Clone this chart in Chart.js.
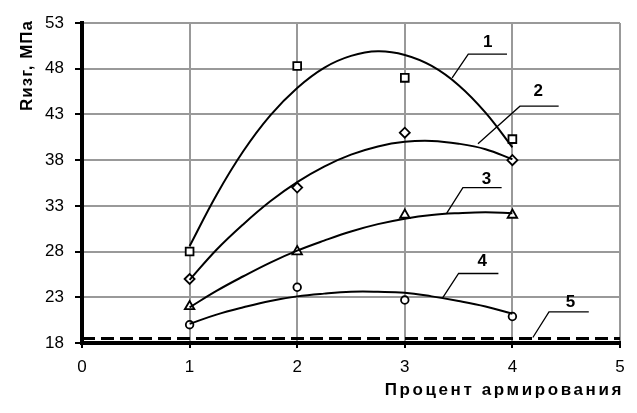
<!DOCTYPE html>
<html>
<head>
<meta charset="utf-8">
<script src="https://cdn.jsdelivr.net/npm/chart.js@4/dist/chart.umd.min.js"></script>
<style>
  html, body { margin: 0; padding: 0; background: #fff; }
  #wrap { width: 637px; height: 413px; }
</style>
</head>
<body>
<div id="wrap"><canvas id="chart" width="637" height="413"></canvas></div>
<script>
// measured points
const pointX = [1, 2, 3, 4];
const series1 = [28, 48.3, 47, 40.3];
const series2 = [25, 35, 41, 38];
const series3 = [22, 28, 32, 32];
const series4 = [20, 24.1, 22.7, 20.9];

// trend curves
const curveX = [1, 1.25, 1.5, 1.75, 2, 2.25, 2.5, 2.75, 3, 3.25, 3.5, 3.75, 4];
const curve1 = [28.6, 34.2, 39.0, 42.9, 45.9, 48.1, 49.4, 49.9, 49.5, 48.3, 46.2, 43.2, 39.4];
const curve2 = [24.9, 28.2, 31.0, 33.5, 35.6, 37.3, 38.6, 39.5, 40.0, 40.1, 39.8, 39.2, 38.1];
const curve3 = [21.9, 23.7, 25.3, 26.8, 28.1, 29.2, 30.2, 31.0, 31.6, 32.0, 32.2, 32.3, 32.2];
const curve4 = [20.1, 21.1, 21.9, 22.6, 23.1, 23.4, 23.6, 23.6, 23.5, 23.1, 22.6, 22.0, 21.2];

// reference level (curve 5)
const line5X = [0, 5];
const line5 = [18.5, 18.5];

// curve numbers with leader lines (data coords)
const labelText = ['1', '2', '3', '4', '5'];
const labelPos = [[3.77, 50.9], [4.24, 45.5], [3.76, 35.9], [3.72, 26.9], [4.54, 22.5]];
const leaderLines = [
  [[3.44, 47.0], [3.59, 49.6], [3.95, 49.6]],
  [[3.68, 39.8], [4.07, 43.9], [4.43, 43.9]],
  [[3.39, 32.2], [3.54, 35.0], [3.90, 35.0]],
  [[3.35, 22.9], [3.50, 25.6], [3.87, 25.6]],
  [[4.19, 18.6], [4.34, 21.4], [4.71, 21.4]]
];

const xTitle = 'Процент армирования';
const yTitle = 'Rизг, МПа';

const FONT = "'Liberation Sans', Arial, sans-serif";

function xy(xs, ys) {
  return xs.map((x, i) => ({ x: x, y: ys[i] }));
}

function curveSet(ys) {
  return {
    data: xy(curveX, ys),
    borderColor: '#000',
    borderWidth: 2,
    pointRadius: 0,
    tension: 0.4,
    fill: false
  };
}

function markerSet(ys, style, r) {
  return {
    data: xy(pointX, ys),
    showLine: false,
    pointStyle: style,
    pointRadius: r,
    pointBackgroundColor: '#fff',
    pointBorderColor: '#000',
    pointBorderWidth: 1.8
  };
}

const labelsPlugin = {
  id: 'curveLabels',
  afterDatasetsDraw(chart) {
    const ctx = chart.ctx;
    const xs = chart.scales.x, ys = chart.scales.y;
    ctx.save();
    ctx.strokeStyle = '#000';
    ctx.lineWidth = 1.3;
    leaderLines.forEach(pts => {
      ctx.beginPath();
      pts.forEach((p, i) => {
        const px = xs.getPixelForValue(p[0]), py = ys.getPixelForValue(p[1]);
        if (i === 0) ctx.moveTo(px, py); else ctx.lineTo(px, py);
      });
      ctx.stroke();
    });
    ctx.fillStyle = '#000';
    ctx.font = 'bold 17px ' + FONT;
    ctx.textAlign = 'center';
    ctx.textBaseline = 'middle';
    labelText.forEach((t, i) => {
      ctx.fillText(t, xs.getPixelForValue(labelPos[i][0]), ys.getPixelForValue(labelPos[i][1]));
    });
    ctx.restore();
  },
  afterDraw(chart) {
    // axis titles, spaced out like the original
    const ctx = chart.ctx;
    const area = chart.chartArea;
    ctx.save();
    ctx.fillStyle = '#000';
    ctx.font = 'bold 17px ' + FONT;
    ctx.letterSpacing = '2.6px';
    ctx.textAlign = 'right';
    ctx.textBaseline = 'alphabetic';
    ctx.fillText(xTitle, area.right + 4, 395);
    ctx.letterSpacing = '1px';
    ctx.translate(32, area.top - 3);
    ctx.rotate(-Math.PI / 2);
    ctx.textAlign = 'right';
    ctx.fillText(yTitle, 0, 0);
    ctx.restore();
  }
};

new Chart(document.getElementById('chart').getContext('2d'), {
  type: 'line',
  data: {
    datasets: [
      curveSet(curve1),
      curveSet(curve2),
      curveSet(curve3),
      curveSet(curve4),
      {
        data: xy(line5X, line5),
        borderColor: '#000',
        borderWidth: 3,
        borderDash: [13, 6],
        pointRadius: 0,
        clip: false
      },
      markerSet(series1, 'rect', 5.5),
      markerSet(series2, 'rectRot', 5),
      markerSet(series3, 'triangle', 5.5),
      markerSet(series4, 'circle', 3.8)
    ]
  },
  options: {
    responsive: false,
    animation: false,
    layout: { padding: { left: 0, right: 17, top: 23, bottom: 0 } },
    plugins: {
      legend: { display: false },
      tooltip: { enabled: false }
    },
    scales: {
      x: {
        type: 'linear',
        min: 0,
        max: 5,
        afterFit: s => { s.height = 70; },
        ticks: { stepSize: 1, color: '#000', font: { family: FONT, size: 17 }, padding: 9 },
        grid: { color: '#999', lineWidth: 2, tickColor: '#000', tickLength: 5, tickWidth: 2 },
        border: { color: '#000', width: 4 }
      },
      y: {
        min: 18,
        max: 53,
        afterFit: s => { s.width = 82; },
        ticks: { stepSize: 5, color: '#000', font: { family: FONT, size: 17 }, padding: 11 },
        grid: { color: '#999', lineWidth: 2, tickColor: '#000', tickLength: 7, tickWidth: 2 },
        border: { color: '#000', width: 4 }
      }
    }
  },
  plugins: [labelsPlugin]
});
</script>
</body>
</html>
